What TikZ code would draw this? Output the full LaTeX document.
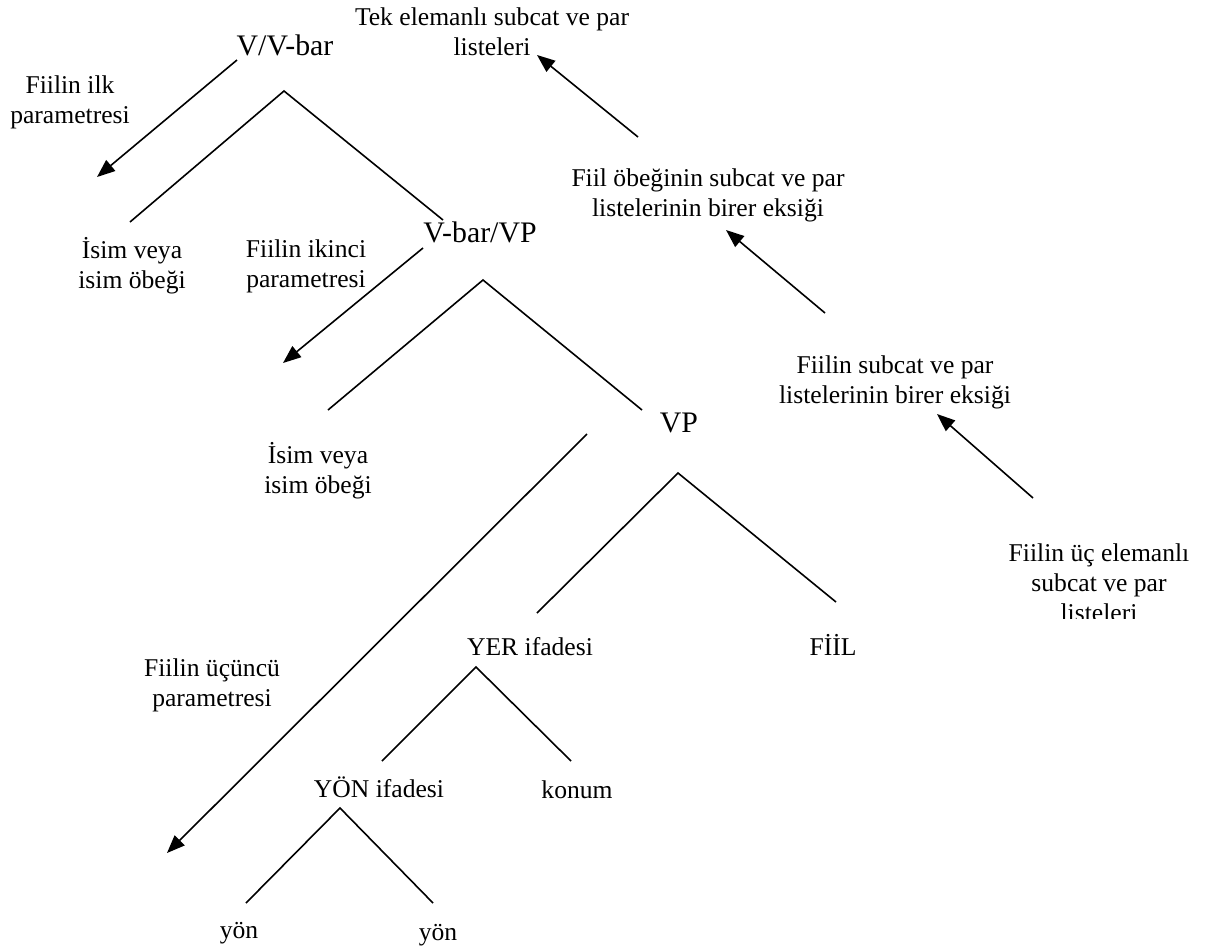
\documentclass[tikz,border=0pt]{standalone}
\usepackage{fontspec}
\setmainfont{Liberation Serif}
\usetikzlibrary{arrows.meta}

\begin{document}
\begin{tikzpicture}[x=1pt, y=-1pt, line width=1.6pt,
		every node/.style={inner sep=0pt, align=center, font=\fontsize{25.6}{30}\selectfont},
		cat/.style={font=\fontsize{29.8}{35}\selectfont},
		param/.style={-{Triangle[length=18pt,width=14pt]}}]
		\useasboundingbox (0,0) rectangle (1218,951);
		
		% categories
		\node[cat] (vvbar) at (285,45) {V/V-bar};
		\node[cat] (vbarvp) at (480,232) {V-bar/VP};
		\node[cat] (vp) at (679,423) {VP};
		\node (yer) at (530,647) {YER ifadesi};
		\node (fiil) at (833,645) {FİİL};
		\node (yon) at (379,787) {YÖN ifadesi};
		\node (konum) at (577,790) {konum};
		\node (yonA) at (239,933) {yön};
		\node (yonB) at (438,935) {yön};
		\node (isimA) at (132,266) {İsim veya\\isim öbeği};
		\node (isimB) at (318,471) {İsim veya\\isim öbeği};
		
		% parameters
		\node (ilk) at (70,102) {Fiilin ilk\\parametresi};
		\node (ikinci) at (306,266) {Fiilin ikinci\\parametresi};
		\node (ucuncu) at (212,685) {Fiilin üçüncü\\parametresi};
		
		% lists
		\node (tek) at (492,32) {Tek elemanlı subcat ve par\\listeleri};
		\node (obek) at (708,195) {Fiil öbeğinin subcat ve par\\listelerinin birer eksiği};
		\node (eksik) at (895,382) {Fiilin subcat ve par\\listelerinin birer eksiği};
		\begin{scope}
			\clip (900,530) rectangle (1218,618);
			\node (ucel) at (1099,583) {Fiilin üç elemanlı\\subcat ve par\\listeleri};
		\end{scope}
		
		% branches
		\coordinate (t1) at (284,91);
		\coordinate (t1l) at (130,222);
		\coordinate (t1r) at (443,220);
		\coordinate (t2) at (483,280);
		\coordinate (t2l) at (328,410);
		\coordinate (t2r) at (642,410);
		\coordinate (t3) at (678,473);
		\coordinate (t3l) at (537,613);
		\coordinate (t3r) at (836,602);
		\coordinate (t4) at (476,667);
		\coordinate (t4l) at (382,761);
		\coordinate (t4r) at (571,761);
		\coordinate (t5) at (340,808);
		\coordinate (t5l) at (246,903);
		\coordinate (t5r) at (433,903);
		\draw (t1l) -- (t1) -- (t1r);
		\draw (t2l) -- (t2) -- (t2r);
		\draw (t3l) -- (t3) -- (t3r);
		\draw (t4l) -- (t4) -- (t4r);
		\draw (t5l) -- (t5) -- (t5r);
		
		% arrows
		\coordinate (a1s) at (237,60);
		\coordinate (a1e) at (97,177);
		\coordinate (a2s) at (423,248);
		\coordinate (a2e) at (283,363);
		\coordinate (a3s) at (587,434);
		\coordinate (a3e) at (167,853);
		\coordinate (b1s) at (638,137);
		\coordinate (b1e) at (537,55);
		\coordinate (b2s) at (825,313);
		\coordinate (b2e) at (726,230);
		\coordinate (b3s) at (1033,498);
		\coordinate (b3e) at (937,414);
		\draw[param] (a1s) -- (a1e);
		\draw[param] (a2s) -- (a2e);
		\draw[param] (a3s) -- (a3e);
		\draw[param] (b1s) -- (b1e);
		\draw[param] (b2s) -- (b2e);
		\draw[param] (b3s) -- (b3e);
	\end{tikzpicture}
\end{document}
